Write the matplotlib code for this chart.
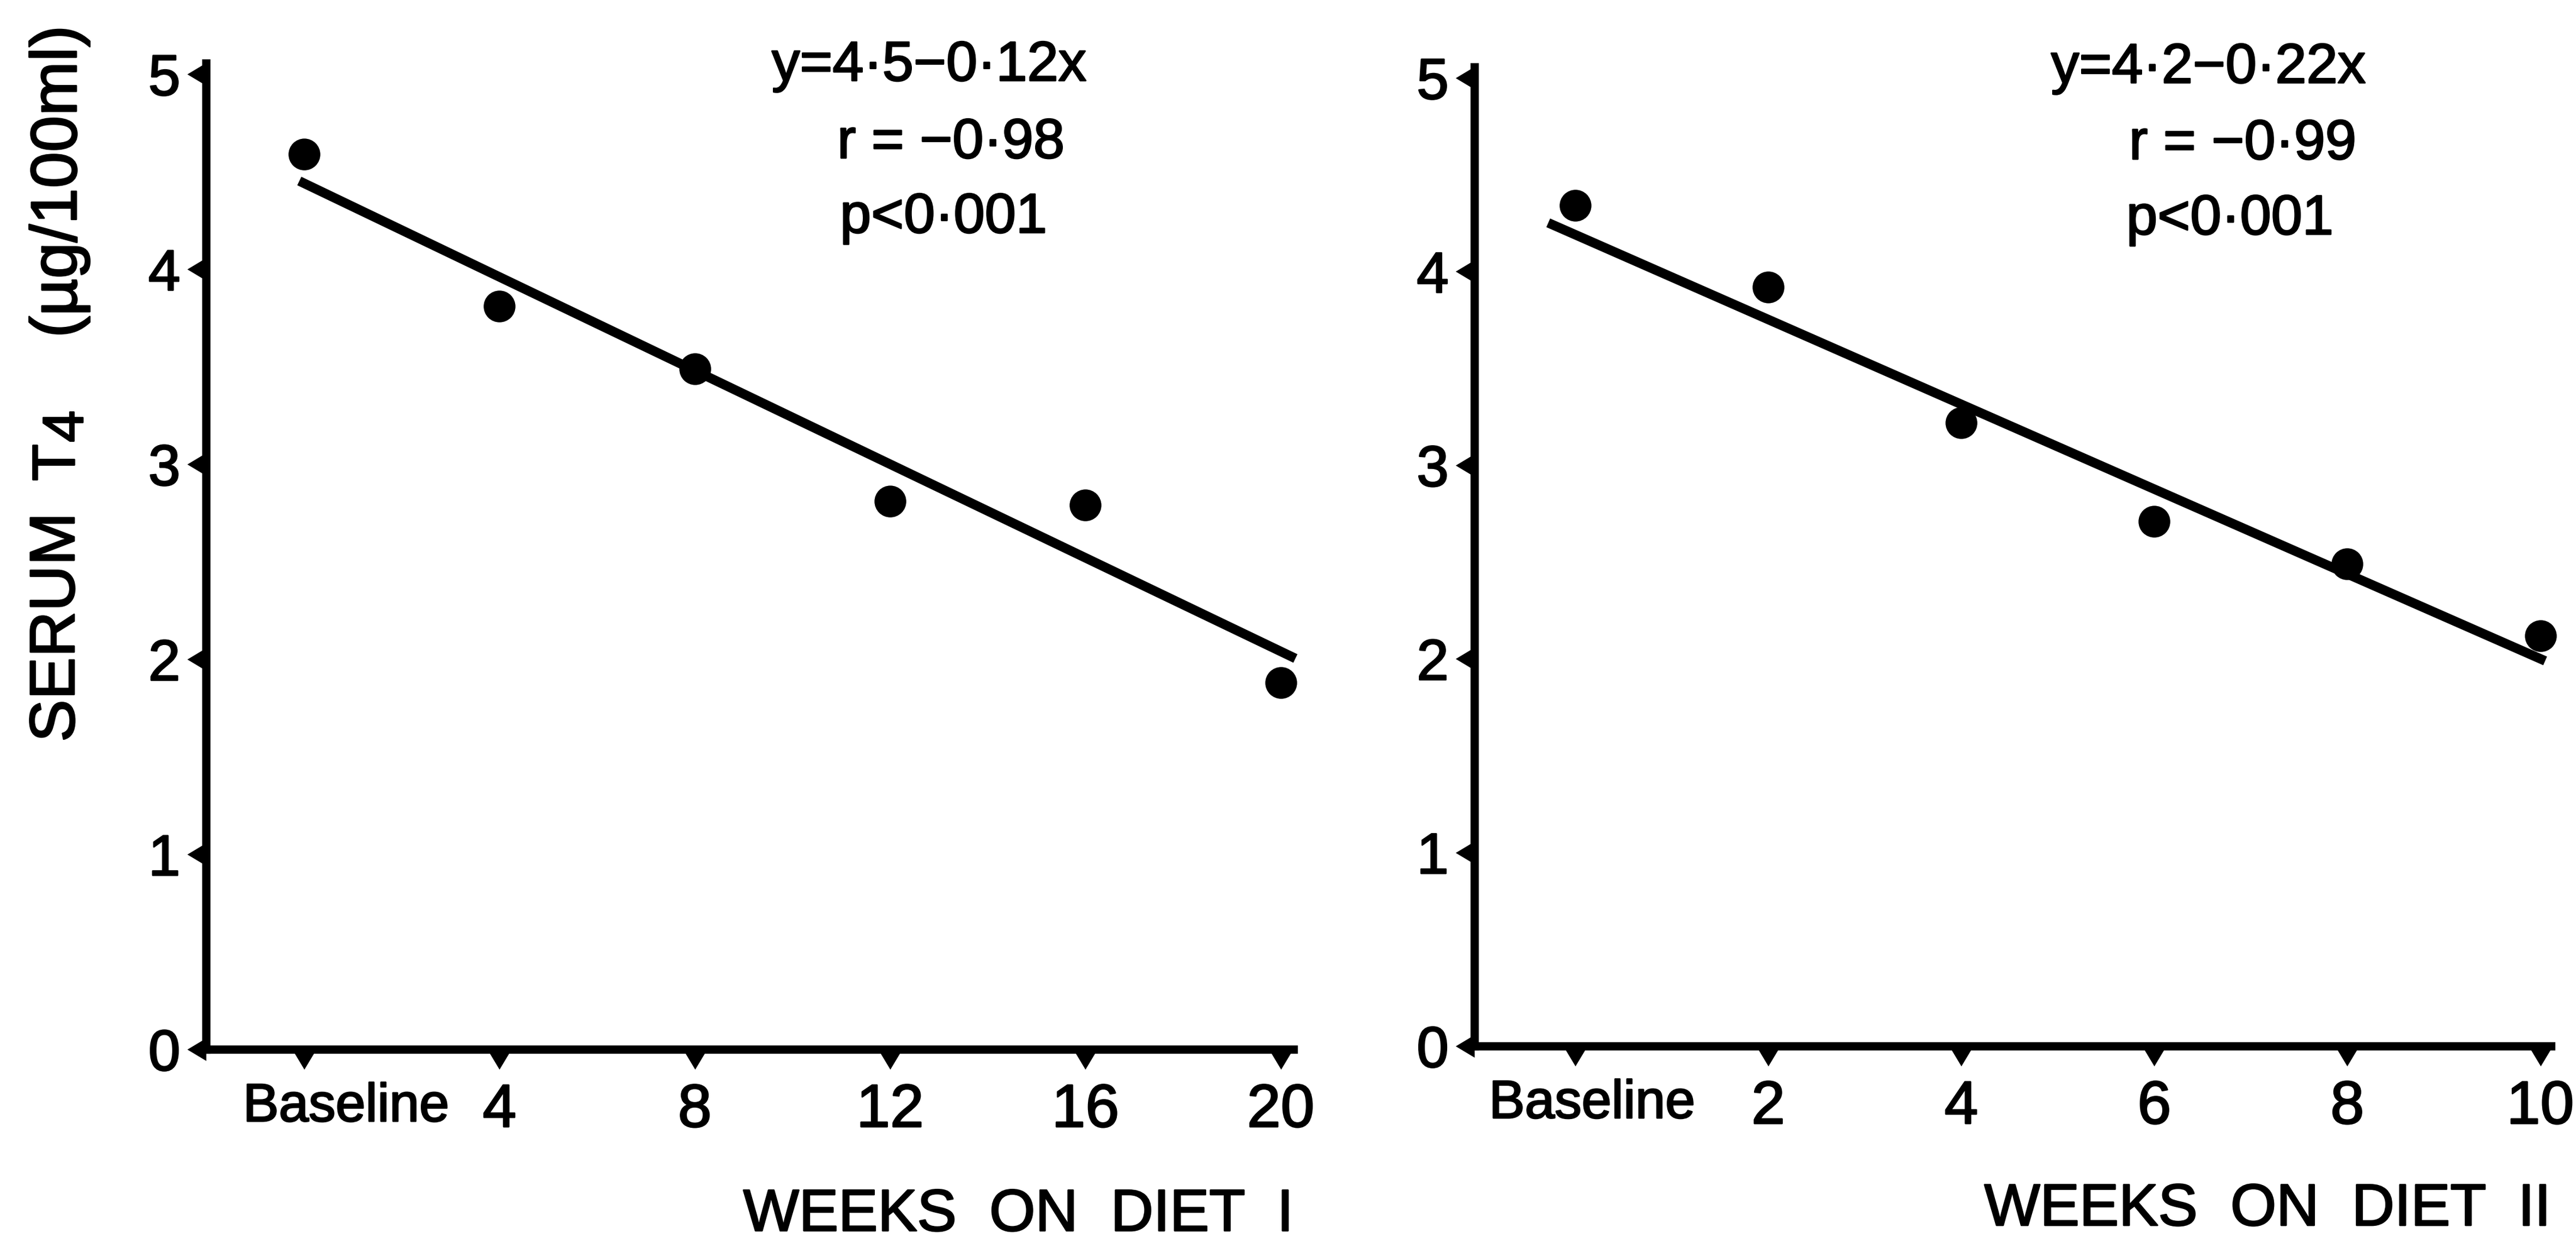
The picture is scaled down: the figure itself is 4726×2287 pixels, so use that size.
import matplotlib
matplotlib.use('Agg')
import matplotlib.pyplot as plt
import numpy as np
from matplotlib.path import Path
from matplotlib import transforms as mtrans
from matplotlib import patheffects as pe

W, H = 4726, 2287
DPI = 100

# ---------------- data ----------------
weeks_1 = [0, 4, 8, 12, 16, 20]
t4_1 = [4.59, 3.81, 3.49, 2.81, 2.79, 1.88]
weeks_2 = [0, 2, 4, 6, 8, 10]
t4_2 = [4.34, 3.92, 3.22, 2.71, 2.49, 2.12]
xlabels_1 = ['Baseline', '4', '8', '12', '16', '20']
xlabels_2 = ['Baseline', '2', '4', '6', '8', '10']
yticks = [0, 1, 2, 3, 4, 5]
ylabels = ['0', '1', '2', '3', '4', '5']
# regression lines: (intercept, slope) and x extent
fit_1 = (4.44, -0.120)
fit_x_1 = [-0.1, 20.3]
fit_2 = (4.19, -0.219)
fit_x_2 = [-0.28, 10.05]
eq_1 = ['y=4·5−0·12x', 'r = −0·98', 'p<0·001']
eq_2 = ['y=4·2−0·22x', 'r = −0·99', 'p<0·001']
xtitle_1 = 'WEEKS  ON  DIET  I'
xtitle_2 = 'WEEKS  ON  DIET  II'
ytitle_parts = ['SERUM', 'T', '4', '(µg/100ml)']

FAM = ['Liberation Sans', 'DejaVu Sans']
plt.rcParams['font.family'] = FAM
BOLD = [pe.withStroke(linewidth=2.0, foreground='black')]

fig = plt.figure(figsize=(W / DPI, H / DPI), dpi=DPI)
fig.patch.set_facecolor('white')


def px_rect(l, t, r, b):
    return [l / W, 1 - b / H, (r - l) / W, (b - t) / H]


ax1 = fig.add_axes(px_rect(378, 116, 2373, 1926))
ax2 = fig.add_axes(px_rect(2705, 123, 4680, 1920))

xt_path = Path([(-0.6, 0), (0.6, 0), (0, -1), (-0.6, 0)],
               [Path.MOVETO, Path.LINETO, Path.LINETO, Path.CLOSEPOLY])
yt_path = Path([(0, -0.6), (0, 0.6), (-1, 0), (0, -0.6)],
               [Path.MOVETO, Path.LINETO, Path.LINETO, Path.CLOSEPOLY])

panels = [
    (ax1, weeks_1, t4_1, xlabels_1, fit_1, fit_x_1, (-2.01, 20.26), 77),
    (ax2, weeks_2, t4_2, xlabels_2, fit_2, fit_x_2, (-1.045, 10.11), 31),
]

for ax, wk, t4, xl, fit, fx, xlim, base_off in panels:
    ax.set_xlim(*xlim)
    ax.set_ylim(0, 5.056)
    for s in ['top', 'right']:
        ax.spines[s].set_visible(False)
    for s in ['left', 'bottom']:
        ax.spines[s].set_linewidth(11)
        ax.spines[s].set_capstyle('projecting')
        ax.spines[s].set_color('black')
    # data points
    ax.plot(wk, t4, 'o', ms=42, color='black', mec='black', mew=0,
            clip_on=False, zorder=4)
    # regression line
    xs = np.array(fx)
    ax.plot(xs, fit[0] + fit[1] * xs, color='black', lw=12.5,
            solid_capstyle='butt', clip_on=False, zorder=3)
    # triangular ticks
    ax.plot(wk, [0] * len(wk), transform=ax.get_xaxis_transform(),
            marker=xt_path, ms=53, ls='none', color='black', mew=0,
            clip_on=False, zorder=5)
    ax.plot([0] * len(yticks), yticks, transform=ax.get_yaxis_transform(),
            marker=yt_path, ms=50, ls='none', color='black', mew=0,
            clip_on=False, zorder=5)
    # tick labels
    ax.set_xticks(wk, [''] + xl[1:])
    ax.set_yticks(yticks, ylabels)
    ax.tick_params(axis='x', length=0, pad=44, labelsize=80)
    ax.tick_params(axis='y', length=0, pad=34, labelsize=76)
    for lab in ax.get_xticklabels() + ax.get_yticklabels():
        lab.set_path_effects(BOLD)
    ax.annotate(xl[0], xy=(wk[0], 0), xycoords=ax.get_xaxis_transform(),
                xytext=(base_off * 0.72, -61 * 0.72), textcoords='offset points',
                ha='center', va='top', fontsize=71, path_effects=BOLD)

# x-axis titles (right aligned at axis end)
tr1 = mtrans.blended_transform_factory(ax1.transAxes, fig.transFigure)
tr2 = mtrans.blended_transform_factory(ax2.transAxes, fig.transFigure)
ax1.text(1.0, 1 - 2259 / H, xtitle_1, transform=tr1, ha='right', va='baseline',
         fontsize=78, path_effects=BOLD)
ax2.text(1.0, 1 - 2249 / H, xtitle_2, transform=tr2, ha='right', va='baseline',
         fontsize=78, path_effects=BOLD)

# y-axis title, built from its pieces


def ytext(s, xpx, ypx, size):
    fig.text(xpx / W, 1 - ypx / H, s, rotation=90, rotation_mode='anchor',
             ha='left', va='baseline', fontsize=size, path_effects=BOLD)


ytext(ytitle_parts[0], 136, 1362, 84)
ytext(ytitle_parts[1], 136, 882, 80)
ytext(ytitle_parts[2], 152, 812, 76)
ytext(ytitle_parts[3], 140, 620, 86)

# regression statistics
pos_1 = [(1416, 148), (1536, 290), (1541, 427)]
pos_2 = [(3763, 152), (3906, 292), (3901, 430)]
for lines, pos in [(eq_1, pos_1), (eq_2, pos_2)]:
    for s, (xp, yp) in zip(lines, pos):
        fig.text(xp / W, 1 - yp / H, s, ha='left', va='baseline',
                 fontsize=74, path_effects=BOLD)

fig.savefig('out.png', dpi=DPI, facecolor='white')
